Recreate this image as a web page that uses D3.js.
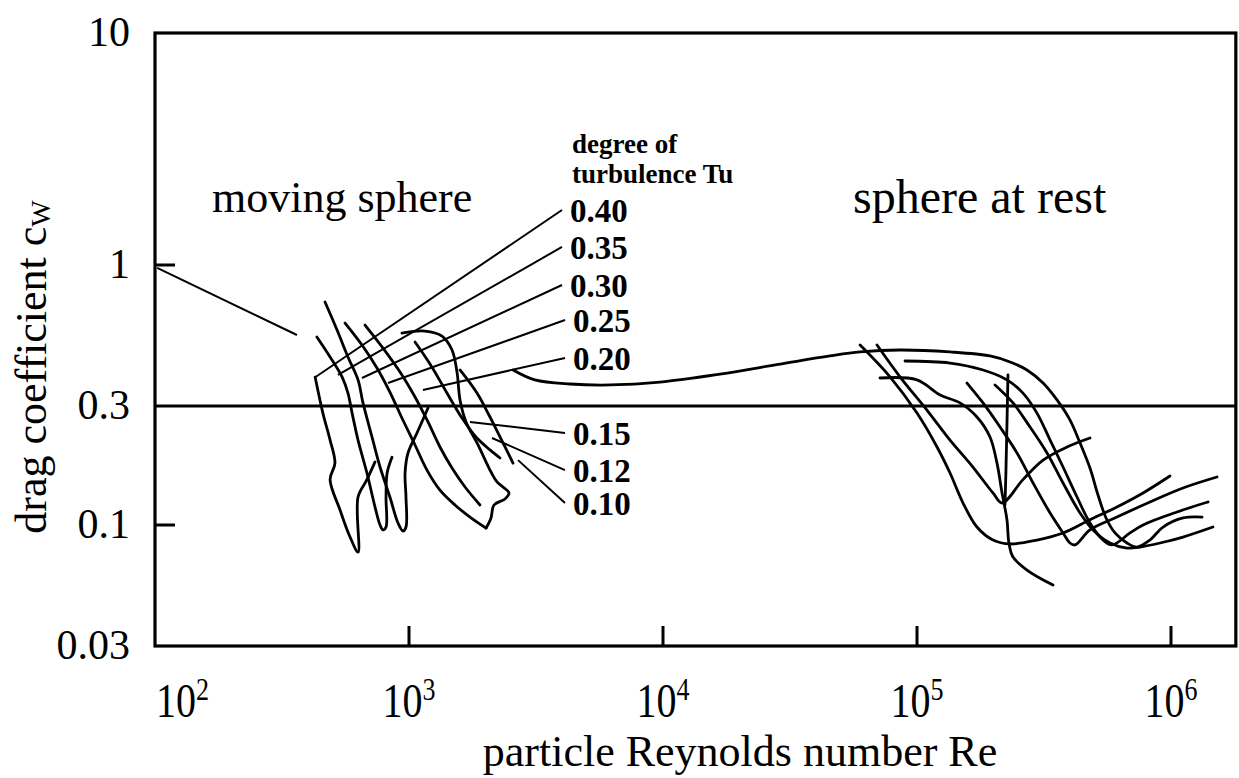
<!DOCTYPE html>
<html>
<head>
<meta charset="utf-8">
<script src="https://cdn.jsdelivr.net/npm/d3@7"></script>
<style>
  body { margin: 0; background: #fff; }
  svg { display: block; font-family: "Liberation Serif", "Times New Roman", serif; }
</style>
</head>
<body>
<div id="chart"></div>
<script>
// values, each point is [Re, cw]

const yTickValues = [10, 1, 0.3, 0.1, 0.03]
const xTickValues = [1e2, 1e3, 1e4, 1e5, 1e6]

// moving sphere, one curve per degree of turbulence Tu
const tuLevels = ["0.40", "0.35", "0.30", "0.25", "0.20", "0.15", "0.12", "0.10"]

const moving040 = [[427, 0.384], [458, 0.281], [489, 0.219], [511, 0.177], [489, 0.152], [535, 0.115],
    [586, 0.0887], [630, 0.0764], [630, 0.1295], [683, 0.152], [735, 0.179]]
const moving035 = [[434, 0.541], [489, 0.456], [545, 0.385], [575, 0.335], [597, 0.281], [630, 0.219],
    [683, 0.1616], [735, 0.118], [769, 0.1], [790, 0.0952], [812, 0.098], [812, 0.1295], [820, 0.1616], [857, 0.187]]
const moving030 = [[467, 0.729], [521, 0.574], [575, 0.456], [630, 0.375], [659, 0.308], [715, 0.2254],
    [769, 0.1708], [841, 0.1295], [905, 0.1019], [947, 0.0942], [973, 0.098], [973, 0.1295], [965, 0.1616],
    [991, 0.1944], [1075, 0.2338], [1188, 0.2944]]
const moving025 = [[560, 0.609], [653, 0.505], [748, 0.415], [841, 0.338], [938, 0.2685], [1056, 0.2093],
    [1177, 0.166], [1324, 0.138], [1517, 0.1203], [1738, 0.1076], [2011, 0.097]]
const moving020 = [[671, 0.599], [790, 0.492], [922, 0.401], [1056, 0.324], [1188, 0.259], [1324, 0.2055],
    [1477, 0.1692], [1662, 0.142], [1903, 0.1203]]
const moving015 = [[938, 0.5595], [1156, 0.569], [1349, 0.5453], [1477, 0.484], [1545, 0.401], [1588, 0.316],
    [1677, 0.259], [1870, 0.2093], [2065, 0.1692], [2221, 0.1488], [2476, 0.1344], [2388, 0.1272],
    [2161, 0.1203], [2103, 0.1067], [2011, 0.097]]
const moving012 = [[1056, 0.518], [1232, 0.418], [1411, 0.335], [1617, 0.2685], [1835, 0.2254], [2084, 0.2], [2282, 0.1856]]
const moving010 = [[1588, 0.408], [1852, 0.335], [2084, 0.271], [2282, 0.2254], [2454, 0.1944], [2567, 0.177]]

const movingCurves = [moving040, moving035, moving030, moving025, moving020, moving015, moving012, moving010]

// leader lines: label end and curve end
const leaderLabelEnd = [[4003, 1.726], [4003, 1.196], [4003, 0.843], [4113, 0.625], [4113, 0.452],
    [4113, 0.2338], [4113, 0.166], [4113, 0.1225]]
const leaderCurveEnd = [[430, 0.385], [525, 0.391], [653, 0.381], [827, 0.365], [1135, 0.344],
    [1738, 0.259], [2122, 0.2233], [2687, 0.182]]

// the stray line from the cw axis
const axisLine = [[102, 0.975], [362, 0.55]]

// sphere at rest
const restMain = [[2570, 0.408], [3130, 0.375], [4305, 0.362], [6185, 0.359], [9730, 0.368], [16750, 0.394],
    [28900, 0.429], [45400, 0.46], [59700, 0.476], [85700, 0.484], [134900, 0.476], [193800, 0.46],
    [232300, 0.437], [271000, 0.408], [313600, 0.365], [355800, 0.316], [400000, 0.264], [438500, 0.2132],
    [479700, 0.1692], [516000, 0.1319], [555000, 0.1067], [602000, 0.0924], [671000, 0.0836], [735000, 0.0803],
    [826000, 0.0861], [931000, 0.098], [1115000, 0.1067], [1325000, 0.1076]]
const rest1 = [[59700, 0.505], [78300, 0.385], [100000, 0.281], [119900, 0.2055], [134900, 0.1616],
    [151800, 0.1225], [172200, 0.098], [199100, 0.0861], [232300, 0.0828], [296700, 0.0861], [375800, 0.0924],
    [479700, 0.105], [612600, 0.1181], [776200, 0.1344], [990800, 0.1572]]
const rest2 = [[69600, 0.505], [85700, 0.385], [109400, 0.289], [134900, 0.219], [166000, 0.1708],
    [199100, 0.1344], [216200, 0.1225], [261300, 0.152], [313600, 0.182], [389600, 0.2055], [479700, 0.2233]]
const rest3 = [[71500, 0.381], [100000, 0.375], [123300, 0.3295], [147700, 0.308], [172200, 0.271],
    [193800, 0.2254], [206500, 0.177], [216200, 0.1344], [226000, 0.105], [230100, 0.0836], [238800, 0.0727],
    [271000, 0.0639], [343100, 0.055]]
const restTrip = [[228100, 0.391], [224000, 0.166], [222000, 0.1203]]
const rest4 = [[89700, 0.4405], [134900, 0.433], [182000, 0.408], [226000, 0.375], [261300, 0.335],
    [296700, 0.281], [334200, 0.219], [375800, 0.1708], [426600, 0.1295], [479700, 0.1019], [540000, 0.0861],
    [586100, 0.082], [690000, 0.0924], [776200, 0.1], [1056000, 0.1128], [1399000, 0.1237]]
const rest5 = [[157300, 0.365], [182000, 0.308], [212300, 0.247], [247600, 0.1944], [286400, 0.1474],
    [334200, 0.1117], [375800, 0.0924], [400000, 0.0836], [418800, 0.082], [479700, 0.0952], [612600, 0.1076],
    [826000, 0.1237], [1115000, 0.1408], [1517000, 0.1558]]
const rest6 = [[202800, 0.359], [238800, 0.308], [278600, 0.247], [325000, 0.1944], [375800, 0.1474],
    [438500, 0.1117], [493200, 0.0952], [575400, 0.0836], [671000, 0.0795], [755100, 0.0803], [905700, 0.0836],
    [1115000, 0.0887], [1462000, 0.098]]

const restCurves = [restMain, rest1, rest2, rest3, restTrip, rest4, rest5, rest6]

const width = 1239, height = 778
const reMax = 1.8e6

const svg = d3.select("#chart")
    .append("svg")
    .attr("width", width)
    .attr("height", height)

const x = d3.scaleLog().domain([1e2, 1e6]).range([155, 1171])
// the drawn cw axis is not quite even per decade, so follow the tick positions
const y = d3.scaleLog().domain([10, 1, 0.3, 0.1, 0.03]).range([33, 265, 406, 525, 646])

const x0 = x(1e2), x1 = x(reMax), y0 = y(0.03), y1 = y(10)

const line = d3.line()
    .x(d => x(d[0]))
    .y(d => y(d[1]))
    .curve(d3.curveCatmullRom.alpha(0.5))

// frame
svg.append("rect")
    .attr("x", x0)
    .attr("y", y1)
    .attr("width", x1 - x0)
    .attr("height", y0 - y1)
    .attr("fill", "none")
    .attr("stroke", "#000")
    .attr("stroke-width", 3.2)

// cw = 0.3 runs right across
svg.append("line")
    .attr("x1", x0).attr("x2", x1)
    .attr("y1", y(0.3)).attr("y2", y(0.3))
    .attr("stroke", "#000")
    .attr("stroke-width", 3)

// inner ticks
svg.selectAll(".ytick")
    .data([1, 0.1])
    .join("line")
    .attr("class", "ytick")
    .attr("x1", x0).attr("x2", x0 + 20)
    .attr("y1", d => y(d)).attr("y2", d => y(d))
    .attr("stroke", "#000")
    .attr("stroke-width", 3)

svg.selectAll(".xtick")
    .data(xTickValues.slice(1))
    .join("line")
    .attr("class", "xtick")
    .attr("x1", d => x(d)).attr("x2", d => x(d))
    .attr("y1", y0).attr("y2", y0 - 20)
    .attr("stroke", "#000")
    .attr("stroke-width", 3)

// tick labels
svg.selectAll(".ylabel")
    .data(yTickValues)
    .join("text")
    .attr("class", "ylabel")
    .attr("x", 130)
    .attr("y", d => y(d) + 13)
    .attr("text-anchor", "end")
    .attr("font-size", 42)
    .text(d => String(d))

// the Re labels are drawn a bit taller than wide in the original
const xLabels = svg.selectAll(".xlabel")
    .data(xTickValues)
    .join("text")
    .attr("class", "xlabel")
    .attr("transform", (d, i) => `translate(${i == 0 ? x(d) + 1 : x(d)},717) scale(1,1.2)`)
    .attr("text-anchor", (d, i) => i == 0 ? "start" : "middle")
    .attr("font-size", 40)

xLabels.append("tspan").text("10")
xLabels.append("tspan")
    .attr("font-size", 26)
    .attr("dy", -14)
    .text(d => Math.round(Math.log10(d)))

// axis titles
svg.append("text")
    .attr("x", 740)
    .attr("y", 766)
    .attr("text-anchor", "middle")
    .attr("font-size", 44)
    .text("particle Reynolds number Re")

const yTitle = svg.append("text")
    .attr("transform", "translate(46,367) rotate(-90)")
    .attr("text-anchor", "middle")
    .attr("font-size", 44)
yTitle.append("tspan").text("drag coefficient  c")
yTitle.append("tspan").attr("font-size", 28).attr("dy", 4).text("W")

// region names
svg.append("text")
    .attr("x", 212).attr("y", 212)
    .attr("font-size", 44)
    .text("moving sphere")

svg.append("text")
    .attr("x", 853).attr("y", 213)
    .attr("font-size", 48)
    .text("sphere at rest")

// curves
svg.append("g")
    .selectAll("path")
    .data(movingCurves.concat(restCurves))
    .join("path")
    .attr("d", line)
    .attr("fill", "none")
    .attr("stroke", "#000")
    .attr("stroke-width", 2.8)
    .attr("stroke-linejoin", "round")
    .attr("stroke-linecap", "round")

// leaders
svg.append("g")
    .selectAll("line")
    .data(tuLevels)
    .join("line")
    .attr("x1", (d, i) => x(leaderLabelEnd[i][0]))
    .attr("y1", (d, i) => y(leaderLabelEnd[i][1]))
    .attr("x2", (d, i) => x(leaderCurveEnd[i][0]))
    .attr("y2", (d, i) => y(leaderCurveEnd[i][1]))
    .attr("stroke", "#000")
    .attr("stroke-width", 2)

svg.append("path")
    .attr("d", d3.line().x(d => x(d[0])).y(d => y(d[1]))(axisLine))
    .attr("stroke", "#000")
    .attr("stroke-width", 2)

// Tu labels
svg.append("g")
    .selectAll("text")
    .data(tuLevels)
    .join("text")
    .attr("x", (d, i) => x(leaderLabelEnd[i][0]) + 8)
    .attr("y", (d, i) => y(leaderLabelEnd[i][1]) + 12)
    .attr("font-size", 33)
    .attr("font-weight", "bold")
    .text(d => d)

const tuTitle = svg.append("text")
    .attr("x", 572).attr("y", 153)
    .attr("font-size", 27)
    .attr("font-weight", "bold")
tuTitle.append("tspan").attr("x", 572).text("degree of")
tuTitle.append("tspan").attr("x", 572).attr("dy", 30).text("turbulence Tu")
</script>
</body>
</html>
